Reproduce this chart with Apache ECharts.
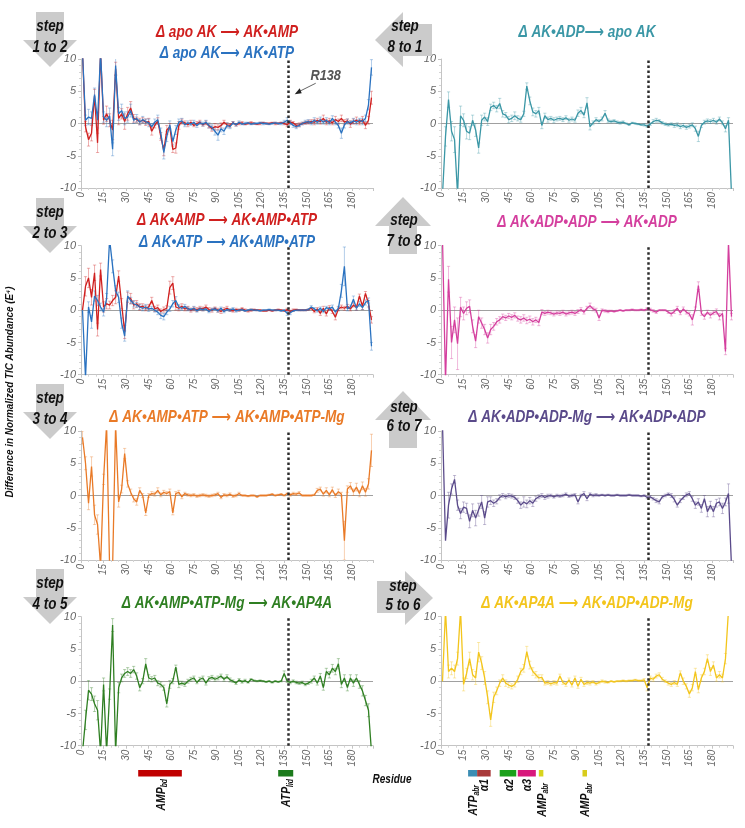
<!DOCTYPE html>
<html><head><meta charset="utf-8">
<script src="https://cdn.jsdelivr.net/npm/echarts@6.0.0/dist/echarts.min.js"></script>
<style>html,body{margin:0;padding:0;background:#fff}#c{width:745px;height:828px}</style>
</head><body><div id="c"></div>
<script>
// ---------- DATA ----------
const residues = [1,3,5,7,9,11,13,15,17,19,21,23,25,27,29,31,33,
35,37,39,41,43,45,47,49,51,53,55,57,59,61,63,65,67,
69,71,73,75,77,79,81,83,85,87,89,91,93,95,97,99,
101,103,105,107,109,111,113,115,117,119,121,123,125,127,129,131,
133,135,137,139,141,143,145,147,149,151,153,155,157,159,161,163,
165,167,169,171,173,175,177,179,181,183,185,187,189,191,193];
const xTickLabels = [0,15,30,45,60,75,90,105,120,135,150,165,180];
const yTickLabels = [-10,-5,0,5,10];
const markedResidue = 138;

// step 1 to 2
const apoToAMP = [11,-0.5,-2.5,-1.5,4.3,-3,11,0.5,1.5,0.5,-1,8.5,0.8,1.5,0.3,1.5,2.4,
0.8,0.6,0.3,0.5,0.2,0.3,-1.2,-0.3,0.4,-2,-4.2,-1,-0.5,-4,-3.8,-0.3,0.3,
0.1,-0.2,0.2,-0.3,0,0.2,-0.2,0.1,-0.4,-0.8,-0.5,-0.6,-0.3,0.2,-0.2,-0.3,
0.1,-0.2,0,0.1,-0.1,0,0.1,0,-0.1,0,0.1,0,0,0.1,0,0,
0.1,0,-0.2,0.2,0.1,-0.3,-0.2,0,0.1,0.2,0.3,0.2,0.5,0.3,0.8,0.2,
0.4,0.1,0.6,0.3,0.8,0.2,0.4,-0.1,0.3,0.5,0.2,0.6,-0.3,0.5,4];
const errApoToAMP = [0,0.8,1,1.2,1,1.5,0,0.6,1.2,1,1.5,1,1,0.8,1.2,1,1,
0.6,0.4,0.5,0.4,0.5,0.5,0.6,0.4,0.5,0.6,0.8,0.7,0.5,0.5,0.8,0.6,0.4,
0.3,0.3,0.3,0.2,0.3,0.3,0.2,0.3,0.3,0.4,0.5,0.4,0.4,0.3,0.3,0.3,
0.2,0.2,0.2,0.2,0.1,0.1,0.2,0.1,0.1,0.2,0.1,0.1,0.1,0.1,0.2,0.1,
0.1,0.2,0.3,0.3,0.2,0.3,0.3,0.2,0.2,0.3,0.3,0.4,0.3,0.4,0.5,0.4,
0.4,0.3,0.5,0.4,0.5,0.4,0.3,0.5,0.4,0.5,0.4,0.5,0.5,0.6,1];
const apoToATP = [11,0.5,1,0.8,4.5,0.5,11,1,0.5,1.2,-4,9,1.5,2,0.8,1,2,
0.5,0.8,0.2,0.6,0.3,0.1,-0.5,0.2,0.6,-1.5,-4.5,-2,-0.2,-2.8,-1,0.2,0.4,
-0.2,0.1,-0.1,0.2,-0.3,0.1,-0.1,0.2,-0.3,-0.6,-1.2,-1.8,-0.8,-1.2,-0.3,-0.5,
0.1,-0.2,0.2,-0.1,0,0.1,-0.1,0,0,0.1,0,0,-0.1,0,0.1,0,
0,0.2,0.5,0.1,-0.3,-0.5,-0.3,0,0.2,0.3,0.1,0.5,0.2,0.6,0.2,0.5,
0.1,0.8,0.2,-0.3,-1.5,-0.2,0.3,0.1,0.4,0.2,0.5,0.3,0.8,2.9,8.7];
const errApoToATP = [0,0.8,1.2,1,1,1.2,0,0.8,1,1.2,1,1.5,1,1,1,0.8,1,
0.5,0.6,0.4,0.5,0.4,0.6,0.5,0.5,0.7,0.8,1,0.8,0.6,0.5,0.7,0.5,0.4,
0.3,0.3,0.2,0.3,0.3,0.2,0.3,0.3,0.4,0.4,0.6,0.8,0.5,0.5,0.4,0.3,
0.2,0.2,0.2,0.1,0.2,0.1,0.1,0.1,0.1,0.1,0.2,0.1,0.1,0.1,0.1,0.1,
0.2,0.3,0.4,0.3,0.3,0.3,0.2,0.2,0.3,0.3,0.3,0.4,0.3,0.4,0.3,0.4,
0.3,0.4,0.4,0.4,0.8,0.5,0.4,0.3,0.4,0.4,0.3,0.5,0.5,0.8,1.2];
// step 8 to 1
const adpToApo = [-11,-2,3.7,-1.2,-2.5,-11,1.2,0.5,-1.2,-1.5,0.5,-1,-3.8,0.5,1,0.3,2.5,
2.8,2.3,3.1,1.5,1.3,0.6,0.8,1.2,0.8,0.6,1.5,5.8,3.5,1.8,1.5,2,-0.3,
1.2,0.6,0.8,0.5,0.7,0.8,0.6,0.9,0.5,0.7,0.5,1.6,2,1.3,3.2,-0.5,
0.1,0.6,0.3,0.7,1.6,0.4,0.3,0.4,0.2,0.1,0.2,0,-0.2,0.1,0,-0.1,
-0.2,-0.2,-0.4,-0.1,0.3,0.5,0.4,0.1,-0.1,-0.2,-0.1,-0.3,-0.2,-0.5,-0.3,-0.6,
-0.4,-0.2,-0.8,-2,-0.3,0.2,0.4,0.3,0.5,0.2,0.7,0.1,-0.8,0.5,-11];
const errAdpToApo = [0,1.5,1.2,1.5,2,0,1.5,1,1.2,1,0.8,1,0.8,0.8,0.6,0.6,0.5,
0.5,0.5,0.8,0.5,0.4,0.5,0.5,0.6,0.4,0.4,0.4,0.5,0.6,0.6,0.5,0.5,0.5,
0.4,0.4,0.3,0.4,0.3,0.3,0.3,0.3,0.3,0.3,0.3,0.5,0.5,0.4,0.8,0.5,
0.3,0.3,0.3,0.3,0.4,0.3,0.2,0.2,0.2,0.2,0.2,0.1,0.1,0.1,0.1,0.1,
0.1,0.2,0.2,0.2,0.3,0.3,0.2,0.2,0.2,0.2,0.2,0.3,0.3,0.3,0.3,0.3,
0.3,0.3,0.4,0.8,0.3,0.3,0.3,0.3,0.3,0.3,0.3,0.3,0.5,0.4,0];
// step 2 to 3
const ampToAmpAtp = [0,3.7,5,2,5.8,-3,6.3,0.5,1,0.8,1.5,2,5.3,1,-3.4,2,1.8,
0.8,1,0.5,0.6,0.3,0.5,1.5,0.2,0.4,-0.2,0.1,0.3,3.5,4.2,0.5,0.3,0.6,
0.2,0.3,0,0.2,0.1,0.3,0.2,0.5,0.1,0,0.3,0,-0.2,0.1,0.3,0,
-0.1,0.1,0,0.2,0,-0.1,0,0.1,0,0,-0.1,-0.1,0,-0.1,0,0.1,
0,-0.1,0.1,-0.2,0,0.1,0,0,0,0.1,0.3,-0.2,0.2,-0.5,0.3,-0.6,
0.4,-0.2,-1.1,0.2,0.5,0.3,0.6,0.2,0.8,0.4,2.2,0.6,2.6,1,-1.5];
const errAmpToAmpAtp = [0,1.5,1.5,1.2,1.2,1,1,0.8,0.8,0.6,0.8,1,0.8,0.8,1,0.8,0.8,
0.6,0.5,0.5,0.4,0.4,0.4,0.5,0.4,0.4,0.4,0.4,0.4,1,1,0.5,0.4,0.4,
0.3,0.3,0.3,0.3,0.3,0.3,0.3,0.3,0.3,0.3,0.2,0.3,0.3,0.3,0.3,0.2,
0.2,0.2,0.2,0.2,0.2,0.2,0.2,0.1,0.1,0.1,0.1,0.1,0.1,0.1,0.1,0.1,
0.1,0.1,0.2,0.2,0.2,0.1,0.1,0.1,0.1,0.1,0.1,0.2,0.2,0.3,0.3,0.3,
0.3,0.3,0.4,0.3,0.3,0.3,0.3,0.3,0.3,0.4,0.3,0.5,0.3,0.5,0.5];
const atpToAmpAtp = [0,-10.5,0.5,-1.8,2.2,1.5,0.5,-0.3,1.8,11,6.8,3,2,-2,-4,2.2,1.5,
1,0.8,0.5,0.3,0.5,0.2,0.3,0,-0.3,-0.8,-1,-0.3,0.2,1,1.5,0.5,0.3,
0.6,0.2,0.1,0.3,-0.1,0.2,0.1,0.2,-0.2,0.1,0.2,-0.1,0.3,-0.2,0.1,0,
0.2,-0.1,0,0.1,-0.1,0,0.1,0,0,-0.1,0,0,0.1,0,0,0,
-0.1,0,-0.5,-0.4,-0.1,0,0,0,0,0.1,0.5,0.2,-0.1,0.3,-0.2,0.4,
0.2,0.5,-0.3,0.3,3,6.8,0.2,0.5,1.7,0.3,1,0.4,1.2,1.5,-5.6];
const errAtpToAmpAtp = [0,0.5,0.8,1,0.8,0.8,0.6,0.6,0.8,0,1,0.8,0.8,0.8,0.8,0.8,0.5,
0.5,0.4,0.4,0.4,0.4,0.4,0.3,0.3,0.4,0.5,0.5,0.4,0.4,0.5,0.6,0.4,0.3,
0.3,0.3,0.2,0.3,0.2,0.2,0.2,0.2,0.2,0.2,0.2,0.2,0.2,0.2,0.2,0.2,
0.2,0.2,0.1,0.1,0.1,0.1,0.1,0.1,0.1,0.1,0.1,0.1,0.1,0.1,0.1,0.1,
0.1,0.1,0.3,0.3,0.1,0.1,0.1,0.1,0.1,0.1,0.2,0.2,0.2,0.2,0.2,0.2,
0.2,0.3,0.3,0.3,1,3,0.3,0.3,0.5,0.3,0.4,0.3,0.4,0.4,0.6];
// step 7 to 8
const adpAdpToAdp = [11,-11,4.8,-5,-1.5,-5.2,0.5,-0.5,0.3,0.6,-2.5,-4.8,-1,-2,-3,-4.3,-3,
-2.5,-1.8,-1.5,-1,-1.2,-0.9,-1.1,-0.8,-1.3,-1.5,-1.2,-1.6,-1.4,-1.8,-1.5,-1.9,-0.3,
-0.5,-0.3,-0.4,-0.6,-0.4,-0.5,-0.3,-0.6,-0.4,-0.3,-0.5,-0.2,0.1,-0.3,0.3,0.7,
0.2,0,-1.2,0,-0.1,-0.2,-0.1,-0.2,-0.1,0,-0.1,0,0,0.1,0,0,
0.1,0,0.2,0.1,-0.1,-0.3,0,0,0,-0.3,-0.6,-0.2,0.3,-0.4,0.2,-0.3,
-0.6,-1.5,0.2,3.8,-0.5,-1,-0.3,-0.8,-0.4,-0.2,-1,-0.5,-6.4,10.5,-1];
const errAdpAdpToAdp = [0,0,2,2.5,2,4,1.5,1,1,1,1,1,1,0.8,0.8,0.8,0.8,
0.6,0.5,0.5,0.4,0.4,0.4,0.4,0.4,0.4,0.5,0.5,0.5,0.5,0.5,0.4,0.5,0.4,
0.3,0.3,0.3,0.3,0.3,0.3,0.3,0.3,0.3,0.3,0.3,0.3,0.3,0.3,0.3,0.4,
0.3,0.3,0.4,0.2,0.2,0.2,0.1,0.1,0.1,0.1,0.1,0.1,0.1,0.1,0.1,0.1,
0.1,0.1,0.2,0.2,0.2,0.2,0.1,0.1,0.1,0.2,0.3,0.3,0.3,0.3,0.3,0.3,
0.3,0.8,0.3,0.6,0.3,0.4,0.3,0.4,0.3,0.4,0.5,0.4,0.5,0,0.5];
// step 3 to 4
const ampAtpToMg = [9,5,-1.2,4.5,-3,-4.5,-11,2.5,11,-11,-11,11,-1,1,6.5,1.8,0.5,
-0.5,-1,0.8,0,-2.7,0,0.3,0.2,0.8,0.1,0.5,0.3,0.6,-2.7,0.3,0.5,-0.2,
0.3,0.1,0,0.1,-0.1,0,0.1,0,-0.1,0,0.1,0.3,-0.3,0.1,0,0.2,
-0.1,0,0.3,0,0,-0.1,0,0,-0.2,0,0,0,0.1,0.2,0,0.1,
0.2,0,0.3,0.1,0.3,0.2,0.4,0,0,0,0,0.1,0.8,1,0.2,0.8,
0.1,0.9,0,0.6,0.2,-7,1,1.5,0.5,1.3,0.3,1.5,0.5,1.8,7];
const errAmpAtpToMg = [1,1,1,1.5,1.5,1.5,0,0.8,0,0,0,0,0.8,0.6,0.8,0.5,0.5,
0.5,0.5,0.4,0.3,0.4,0.3,0.3,0.3,0.4,0.3,0.3,0.3,0.4,0.3,0.3,0.3,0.3,
0.2,0.2,0.2,0.2,0.2,0.2,0.2,0.2,0.2,0.2,0.2,0.2,0.2,0.2,0.2,0.2,
0.2,0.2,0.2,0.1,0.1,0.1,0.1,0.1,0.1,0.1,0.1,0.1,0.1,0.1,0.1,0.1,
0.1,0.1,0.1,0.2,0.2,0.2,0.2,0.1,0.1,0.1,0.1,0.1,0.3,0.3,0.3,0.4,
0.3,0.4,0.3,0.4,0.3,3,0.5,0.5,0.5,0.6,0.5,0.6,0.6,0.8,2.5];
// step 6 to 7
const adpAdpMgToAdpAdp = [11,-7,-1.5,1,2.5,-1.5,-2.8,-1.8,-2,-4,-2.3,-3.5,-2.2,-1,-3.5,-1,-0.8,
-1.2,-0.9,-0.3,0,-0.2,0,-0.1,-0.3,-0.8,-1.5,-1,-1.3,-0.8,-1.2,-0.5,-0.2,0,
-0.3,-0.1,0,-0.2,0,-0.1,0,0.2,-0.1,0,0.1,-1,0,0.3,-0.5,0.2,
0,0.1,0,0.1,0,0.1,0,0,0.1,0,0,0,0.1,0,0,0,
-0.1,0,-0.3,-0.2,-0.5,-0.8,-1,-0.2,0,0.2,0,-0.6,-1.5,-0.8,-0.3,0.1,
0.3,-0.5,-1.5,-1,-2,-0.5,-2.5,-1.5,-2.5,-1.2,-1,-2,-1,0.3,-11];
const errAdpAdpMgToAdpAdp = [0,0,2,0.8,0.6,0.8,0.8,0.8,0.8,1,1,1.2,1,1,1,0.8,0.6,
0.5,0.4,0.4,0.3,0.3,0.3,0.3,0.3,0.4,0.5,0.8,0.6,0.5,0.5,0.4,0.3,0.3,
0.3,0.3,0.2,0.2,0.2,0.2,0.2,0.2,0.2,0.2,0.2,0.3,0.2,0.3,0.3,0.2,
0.2,0.2,0.1,0.1,0.1,0.1,0.1,0.1,0.1,0.1,0.1,0.1,0.1,0.1,0.1,0.1,
0.1,0.1,0.2,0.2,0.2,0.3,0.3,0.2,0.2,0.2,0.3,0.4,0.3,0.3,0.3,0.3,
0.3,0.4,0.5,0.5,0.6,0.5,0.8,0.6,0.8,0.6,0.6,0.8,0.6,1.5,0];
// step 4 to 5
const mgToAp4a = [-11,-6,-1.4,-2,-3.5,-4.5,-11,-0.5,-11,-2,8.7,-11,-1,0.5,1.2,1.5,1.2,
1.8,0.8,-1,0,2.7,0.5,0.3,0.5,-0.3,-0.5,-1,-3.5,-0.5,0,2.2,-0.5,-0.3,
-0.5,0,0.3,0.5,-0.2,0.3,0.5,-0.3,0.4,0.6,0.3,0.5,0.8,0.3,0.7,0.2,
0,-0.3,0.2,-0.1,0.1,-0.2,0.3,0.1,0,0.1,0,-0.1,0,-0.2,0,-0.1,
0,1.2,0,-0.2,0,-0.2,-0.3,-0.2,-0.5,-0.3,0,0.5,-0.3,0.8,-1,1.5,
1,2,1.5,2.7,-0.5,0.5,-1,0.5,-0.3,0.5,-0.5,-1.5,-3,-4.5,-11];
const errMgToAp4a = [0,1.5,1.5,1,1.2,1.5,0,1,0,0.8,1,0,0.8,0.6,0.6,0.6,0.6,
0.5,0.5,0.5,0.4,0.8,0.5,0.4,0.4,0.4,0.4,0.4,0.5,0.6,0.4,0.3,0.5,0.3,
0.3,0.3,0.3,0.3,0.2,0.3,0.3,0.3,0.3,0.3,0.3,0.3,0.3,0.3,0.3,0.3,
0.2,0.2,0.2,0.2,0.2,0.1,0.1,0.1,0.1,0.1,0.1,0.1,0.1,0.1,0.1,0.1,
0.1,0.4,0.2,0.2,0.2,0.2,0.2,0.2,0.2,0.2,0.3,0.3,0.3,0.4,0.4,0.5,
0.5,0.6,0.5,0.8,0.5,0.5,0.5,0.5,0.5,0.5,0.6,0.8,0.8,1,0];
// step 5 to 6
const ap4aToAdpAdpMg = [0,11,1.5,2,1.5,3.5,11,-0.5,1.2,3.5,1,0.5,4.5,2.8,0.5,-2.5,-6,
-2.5,-1.5,-0.3,0.5,-0.3,-0.6,-0.8,-0.5,0.3,1.5,2,4.6,2.5,1.5,1,0.5,0.6,
-0.3,-0.2,-0.4,-0.2,-0.3,0.8,-0.2,-0.5,0.2,-0.6,0.5,-0.8,0.3,-0.5,-0.2,-0.3,
-0.1,-0.4,-0.2,0,-0.1,-0.2,0,-0.1,0,0,0.1,0,0.1,0.1,0.2,0.1,
0.1,0.2,-1,0.5,0.3,0.8,1,0.3,0,-0.3,-0.5,-0.2,-0.5,1.3,0,-0.8,
-2,-1,1.5,-1.3,0.5,1.5,3.5,1.5,2.5,0.5,1,0.5,3.5,11,11];
const errAp4aToAdpAdpMg = [0,0,1,1,1,1,0,1,0.8,1,0.8,1,1.5,1,1,1,1,
0.8,0.6,0.5,0.5,0.5,0.4,0.4,0.4,0.5,0.5,0.6,0.8,0.6,0.6,0.5,0.5,0.4,
0.3,0.3,0.3,0.3,0.3,0.3,0.3,0.3,0.3,0.3,0.3,0.3,0.3,0.3,0.3,0.3,
0.2,0.2,0.2,0.2,0.2,0.1,0.1,0.1,0.1,0.1,0.1,0.1,0.1,0.1,0.1,0.1,
0.1,0.2,0.5,0.3,0.3,0.3,0.3,0.3,0.2,0.3,0.3,0.3,0.3,0.3,0.5,0.4,
0.5,0.5,0.5,0.5,0.5,0.5,0.6,0.6,0.5,0.5,0.5,0.6,0.8,0,0];

// domain annotations (residue ranges) under the bottom panels
const leftDomains = [
  {name:'AMP', sub:'bd', from:38, to:67, color:'#c00000'},
  {name:'ATP', sub:'lid', from:131, to:141, color:'#1b7a1b'}
];
const rightDomains = [
  {name:'ATP', sub:'abr', from:18, to:24, color:'#3b8db3', labelDrop:6},
  {name:'α1', sub:'', from:24, to:33, color:'#a83a3a', labelDrop:0},
  {name:'α2', sub:'', from:39, to:50, color:'#1aa01a', labelDrop:0},
  {name:'α3', sub:'', from:51, to:63, color:'#d8187c', labelDrop:0},
  {name:'AMP', sub:'abr', from:65, to:68, color:'#d8d41c', labelDrop:4},
  {name:'AMP', sub:'abr', from:94, to:97, color:'#d8cc1c', labelDrop:4}
];

// ---------- STYLE ----------
const RED='#d0201f', BLUE='#2a72c0', TEAL='#3b97a6', MAGENTA='#d43f9e',
      ORANGE='#e97a27', PURPLE='#5a4a8a', GREEN='#2f7f22', YELLOW='#f3c51c';
const FONT = "'Liberation Sans',Arial,sans-serif";
const TITLE_FONT = "'Liberation Sans','DejaVu Sans',Arial,sans-serif";

const panels = [
  {titles:[['Δ apo AK ⟶ AK•AMP',RED,32],['Δ apo AK⟶ AK•ATP',BLUE,53]],
   series:[[apoToAMP,errApoToAMP,RED],[apoToATP,errApoToATP,BLUE]]},
  {titles:[['Δ AK•ADP⟶ apo AK',TEAL,32]],
   series:[[adpToApo,errAdpToApo,TEAL]]},
  {titles:[['Δ AK•AMP ⟶ AK•AMP•ATP',RED,220],['Δ AK•ATP ⟶ AK•AMP•ATP',BLUE,242]],
   series:[[ampToAmpAtp,errAmpToAmpAtp,RED],[atpToAmpAtp,errAtpToAmpAtp,BLUE]]},
  {titles:[['Δ AK•ADP•ADP ⟶ AK•ADP',MAGENTA,222]],
   series:[[adpAdpToAdp,errAdpAdpToAdp,MAGENTA]]},
  {titles:[['Δ AK•AMP•ATP ⟶ AK•AMP•ATP-Mg',ORANGE,417]],
   series:[[ampAtpToMg,errAmpAtpToMg,ORANGE]]},
  {titles:[['Δ AK•ADP•ADP-Mg ⟶ AK•ADP•ADP',PURPLE,417]],
   series:[[adpAdpMgToAdpAdp,errAdpAdpMgToAdpAdp,PURPLE]]},
  {titles:[['Δ AK•AMP•ATP-Mg ⟶ AK•AP4A',GREEN,603]],
   series:[[mgToAp4a,errMgToAp4a,GREEN]]},
  {titles:[['Δ AK•AP4A ⟶ AK•ADP•ADP-Mg',YELLOW,603]],
   series:[[ap4aToAdpAdpMg,errAp4aToAdpAdpMg,YELLOW]]}
];
const gridPos = [[81,59],[441,59],[81,245.7],[441,245.7],[81,431],[441,431],[81,616.7],[441,616.7]];
const GW = 292, GH = 129;

const chart = echarts.init(document.getElementById('c'), null, {renderer:'canvas'});

const grids=[], xAxes=[], yAxes=[], series=[];
function errRender(color){
  return function(params, api){
    const x = api.value(0), y = api.value(1), e = api.value(2);
    if (!e || Math.abs(y) > 10) return null;
    const p1 = api.coord([x, y + e]), p2 = api.coord([x, y - e]);
    const w = 1.6;
    const st = {stroke: color, lineWidth: 0.8, opacity: 0.45};
    return {type:'group', children:[
      {type:'line', shape:{x1:p1[0],y1:p1[1],x2:p2[0],y2:p2[1]}, style:st},
      {type:'line', shape:{x1:p1[0]-w,y1:p1[1],x2:p1[0]+w,y2:p1[1]}, style:st},
      {type:'line', shape:{x1:p2[0]-w,y1:p2[1],x2:p2[0]+w,y2:p2[1]}, style:st}
    ]};
  };
}
panels.forEach((p, i) => {
  grids.push({left:gridPos[i][0], top:gridPos[i][1], width:GW, height:GH});
  xAxes.push({type:'value', gridIndex:i, min:xTickLabels[0], max:194, interval:15,
    axisLine:{onZero:false, lineStyle:{color:'#c4c4c4'}},
    axisTick:{show:true, length:3, lineStyle:{color:'#c4c4c4'}},
    minorTick:{show:true, splitNumber:3, length:2, lineStyle:{color:'#d4d4d4'}},
    splitLine:{show:false},
    axisLabel:{rotate:90, fontSize:10, fontStyle:'italic', color:'#666', fontFamily:FONT,
      margin:4, showMaxLabel:false}});
  yAxes.push({type:'value', gridIndex:i, min:yTickLabels[0], max:yTickLabels[yTickLabels.length-1], interval:5,
    axisLine:{show:true, lineStyle:{color:'#c4c4c4'}},
    axisTick:{show:true, length:3, lineStyle:{color:'#c4c4c4'}},
    minorTick:{show:true, splitNumber:5, length:2, lineStyle:{color:'#d4d4d4'}},
    splitLine:{show:false},
    axisLabel:{fontSize:11, fontStyle:'italic', color:'#666', fontFamily:FONT, margin:5}});
  p.series.forEach((s, k) => {
    const [vals, errs, color] = s;
    series.push({type:'custom', xAxisIndex:i, yAxisIndex:i, z:2, clip:true,
      renderItem: errRender(color), silent:true, animation:false,
      dimensions:['x','y','e'], encode:{x:0, y:1},
      data: residues.map((r, j) => [r, vals[j], errs[j]]),
      markLine: k === 0 ? {silent:true, symbol:'none', z:1, animation:false, label:{show:false},
        data:[{yAxis:0, lineStyle:{color:'#a0a0a0', width:1, type:'solid'}}]} : undefined
    });
  });
  p.series.forEach((s, k) => {
    const [vals, errs, color] = s;
    series.push({type:'line', xAxisIndex:i, yAxisIndex:i, z:3, clip:true,
      showSymbol:false, symbol:'none', animation:false, silent:true,
      lineStyle:{color:color, width:1.3}, itemStyle:{color:color},
      data: residues.map((r, j) => [r, vals[j]]),
      markLine: k === 0 ? {silent:true, symbol:'none', z:10, animation:false, label:{show:false},
        data:[{xAxis:markedResidue, lineStyle:{color:'#2b2b2b', width:2.5, type:[2.5,2.5]}}]} : undefined
    });
  });
});

chart.setOption({animation:false, backgroundColor:'#fff', grid:grids, xAxis:xAxes, yAxis:yAxes, series:series});

// ---------- decorations ----------
const G = [];
const ARROW = '#cbcbcb';
function stepText(x, y1, y2, t){
  G.push({type:'text', x:x, y:y1, z:20, scaleX:0.84, style:{text:'step', fill:'#111', font:'italic bold 16px '+FONT, textAlign:'center', textVerticalAlign:'middle'}});
  G.push({type:'text', x:x, y:y2, z:20, scaleX:0.84, style:{text:t, fill:'#111', font:'italic bold 16px '+FONT, textAlign:'center', textVerticalAlign:'middle'}});
}
function downArrow(cx, B, t){
  G.push({type:'polygon', z:10, shape:{points:[[cx-14,B-28],[cx+14,B-28],[cx+14,B],[cx+27,B],[cx,B+27],[cx-27,B],[cx-14,B]]}, style:{fill:ARROW}});
  stepText(cx, B-13, B+8, t);
}
downArrow(50, 40, '1 to 2');
downArrow(50, 226, '2 to 3');
downArrow(50, 412, '3 to 4');
downArrow(50, 597, '4 to 5');
// left-pointing (8 to 1)
G.push({type:'polygon', z:10, shape:{points:[[375,40],[403,12],[403,24],[432,24],[432,56],[403,56],[403,67]]}, style:{fill:ARROW}});
stepText(405, 27, 48, '8 to 1');
// up arrows
function upArrow(cx, tip, t, y1, y2){
  G.push({type:'polygon', z:10, shape:{points:[[cx,tip],[cx+28,tip+29],[cx+14,tip+29],[cx+14,tip+57],[cx-14,tip+57],[cx-14,tip+29],[cx-28,tip+29]]}, style:{fill:ARROW}});
  stepText(cx+1, y1, y2, t);
}
upArrow(403, 197, '7 to 8', 221, 242);
upArrow(403, 391, '6 to 7', 408, 427);
// right-pointing (5 to 6)
G.push({type:'polygon', z:10, shape:{points:[[377,581],[405,581],[405,571],[433,598],[405,625],[405,613],[377,613]]}, style:{fill:ARROW}});
stepText(403, 587, 606, '5 to 6');

// panel titles
panels.forEach((p, i) => {
  const cx = gridPos[i][0] + GW/2;
  p.titles.forEach(t => {
    G.push({type:'text', x:cx, y:t[2], z:20, scaleX:0.8, style:{text:t[0], fill:t[1], font:'italic bold 17px '+TITLE_FONT, textAlign:'center', textVerticalAlign:'middle'}});
  });
});

// y-axis title
G.push({type:'text', x:10, y:392, rotation:Math.PI/2, scaleX:0.86, z:20,
  style:{text:'Difference in Normalized TIC Abundance (E⁴)', fill:'#111', font:'italic bold 11.5px '+FONT, textAlign:'center', textVerticalAlign:'middle'}});

// R138 annotation
const x138 = chart.convertToPixel({xAxisIndex:0}, markedResidue);
const y5 = chart.convertToPixel({yAxisIndex:0}, 5);
G.push({type:'text', x:x138+37, y:y5-15, z:20, scaleX:0.85, style:{text:'R138', fill:'#555', font:'italic bold 15px '+FONT, textAlign:'center', textVerticalAlign:'middle'}});
G.push({type:'line', z:20, shape:{x1:x138+27, y1:y5-8, x2:x138+11, y2:y5}, style:{stroke:'#666', lineWidth:1}});
G.push({type:'polygon', z:20, shape:{points:[[x138+6,y5+3],[x138+11,y5-3],[x138+13,y5+2]]}, style:{fill:'#222'}});

// domain bars and labels
function domains(list, axisIdx){
  list.forEach(d => {
    const a = chart.convertToPixel({xAxisIndex:axisIdx}, d.from);
    const b = chart.convertToPixel({xAxisIndex:axisIdx}, d.to);
    G.push({type:'rect', z:20, shape:{x:a, y:770, width:b-a, height:6.5}, style:{fill:d.color}});
    const txt = d.sub ? '{m|'+d.name+'}{s|'+d.sub+'}' : '{m|'+d.name+'}';
    G.push({type:'text', x:(a+b)/2+1, y:779+(d.labelDrop||0), rotation:Math.PI/2, scaleX:0.8, z:20,
      style:{text:txt, textAlign:'right', textVerticalAlign:'middle',
        rich:{m:{font:'italic bold 13px '+FONT, fill:'#111', lineHeight:16, verticalAlign:'middle'},
              s:{font:'italic bold 8.5px '+FONT, fill:'#111', lineHeight:9, verticalAlign:'bottom'}}}});
  });
}
domains(leftDomains, 6);
domains(rightDomains, 7);
G.push({type:'text', x:392, y:780, z:20, scaleX:0.8, style:{text:'Residue', fill:'#111', font:'italic bold 12.5px '+FONT, textAlign:'center', textVerticalAlign:'middle'}});

chart.setOption({graphic:G});
</script></body></html>
